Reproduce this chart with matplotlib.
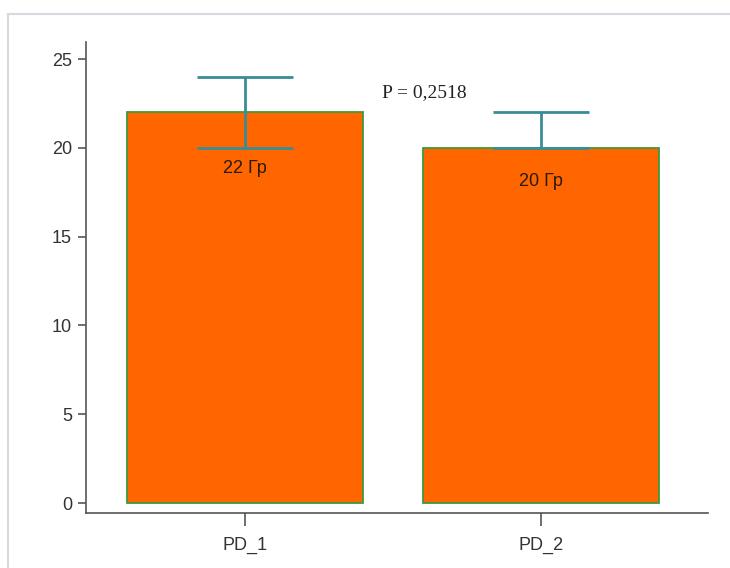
import matplotlib.pyplot as plt
from matplotlib.lines import Line2D

groups = ['PD_1', 'PD_2']
dose = [22, 20]
err_low = [2, 0]
err_high = [2, 2]
bar_labels = ['22 Гр', '20 Гр']
label_y = [18.85, 18.1]
p_text = 'P = 0,2518'

fig = plt.figure(figsize=(7.3, 5.68), dpi=100)
ax = fig.add_axes([0.1178, 0.0968, 0.852, 0.829])

x = list(range(len(groups)))
ax.bar(x, dose, width=0.8, color='#ff6600', edgecolor='#3d9a3d', linewidth=1.3, zorder=2)
ax.errorbar(x, dose, yerr=[err_low, err_high], fmt='none', ecolor='#3a8c96',
            elinewidth=2.0, capsize=34.5, capthick=2.0, zorder=3)

for xi, txt, yy in zip(x, bar_labels, label_y):
    ax.text(xi, yy, txt, ha='center', va='center', fontsize=13,
            family='Liberation Sans', color='#2a1a10', zorder=4)
ax.text(0.605, 23.1, p_text, ha='center', va='center', fontsize=14,
        family='Liberation Serif', color='#222222')

ax.set_xlim(-0.537, 1.564)
ax.set_ylim(-0.56, 25.95)
ax.set_xticks(x)
ax.set_xticklabels(groups)
ax.set_yticks([0, 5, 10, 15, 20, 25])

for side in ('top', 'right'):
    ax.spines[side].set_visible(False)
for side in ('left', 'bottom'):
    ax.spines[side].set_color('#555555')
    ax.spines[side].set_linewidth(1.2)
ax.tick_params(axis='y', length=6, width=1.2, color='#555555', pad=4)
ax.tick_params(axis='x', length=9, width=1.2, color='#555555', pad=8)
for lab in ax.get_xticklabels() + ax.get_yticklabels():
    lab.set_family('Liberation Sans')
    lab.set_fontsize(13)
    lab.set_color('#333333')

# thin frame lines along the top and left edge
fig.add_artist(Line2D([0.011, 1.0], [0.9754, 0.9754], color='#d8d8e0', linewidth=1.5))
fig.add_artist(Line2D([0.011, 0.011], [0.0, 0.9754], color='#d8d8e0', linewidth=1.5))

fig.savefig('out.png', dpi=100)
